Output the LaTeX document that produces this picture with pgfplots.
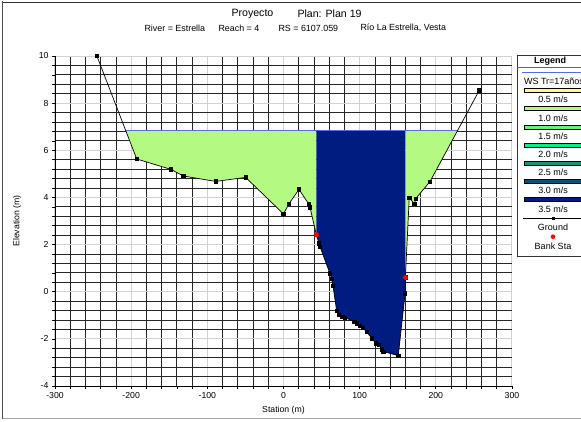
\documentclass[border=0pt]{standalone}
\usepackage{fontspec}
\setmainfont{Liberation Sans}
\usepackage{pgfplots}
\pgfplotsset{compat=1.18}
\definecolor{lg}{RGB}{180,250,130}
\definecolor{navyc}{RGB}{0,28,128}
\definecolor{wsblue}{RGB}{80,110,230}
\definecolor{bar0}{RGB}{255,250,130}
\definecolor{bar2}{RGB}{110,240,120}
\definecolor{bar3}{RGB}{0,240,130}
\definecolor{bar4}{RGB}{20,150,115}
\definecolor{bar5}{RGB}{10,80,125}
\definecolor{gridgray}{RGB}{210,210,210}

\pgfplotstableread{
x y
-245 10.0
-192.7 5.63
-147.7 5.19
-131.6 4.91
-89 4.68
-49.7 4.85
0 3.30
7.2 3.73
20.3 4.34
33.1 3.72
34.8 3.58
43.1 2.42
46.6 2.05
47.9 1.91
61 0.78
63.2 0.54
65 0.25
69.8 -0.82
72.4 -0.99
77.2 -1.06
80.8 -1.10
92.9 -1.27
96.1 -1.34
100.4 -1.46
104 -1.54
109.2 -1.70
115.8 -1.98
121.4 -2.19
125.4 -2.26
128.9 -2.44
131 -2.54
150.7 -2.71
159.6 -0.07
160.0 0.61
165.1 3.99
172.0 3.72
173.6 3.95
192.3 4.67
257 8.54
}\ground

% left overbank flow area (ground from WS edge to left bank, closed along WS)
\pgfplotstableread{
x y
-207.3 6.85
-192.7 5.63
-147.7 5.19
-131.6 4.91
-89 4.68
-49.7 4.85
0 3.30
7.2 3.73
20.3 4.34
33.1 3.72
34.8 3.58
43.1 2.42
43.1 6.85
}\leftob

% main channel flow area
\pgfplotstableread{
x y
43.1 6.85
43.1 2.42
46.6 2.05
47.9 1.91
61 0.78
63.2 0.54
65 0.25
69.8 -0.82
72.4 -0.99
77.2 -1.06
80.8 -1.10
92.9 -1.27
96.1 -1.34
100.4 -1.46
104 -1.54
109.2 -1.70
115.8 -1.98
121.4 -2.19
125.4 -2.26
128.9 -2.44
131 -2.54
150.7 -2.71
159.6 -0.07
160.0 0.61
160.0 6.85
}\chan

% right overbank flow area
\pgfplotstableread{
x y
160.0 6.85
160.0 0.61
165.1 3.99
172.0 3.72
173.6 3.95
192.3 4.67
228.7 6.85
}\rightob

\pgfplotstableread{
x y
-207.3 6.85
228.7 6.85
}\wsurf

\pgfplotstableread{
x y
43.1 2.42
160.0 0.61
}\bank

\begin{document}
\begin{tikzpicture}[x=1pt,y=1pt]
\path[use as bounding box] (0,0) rectangle (581,421);
% outer frame
\draw[black!70, line width=0.8pt] (2.5,420) -- (2.5,2) ;
\draw[black!80, line width=0.8pt] (2.5,418.5) -- (590,418.5);
\draw[black!35, line width=0.8pt] (2.5,2.5) -- (590,2.5);

\begin{axis}[
  at={(55pt,35pt)}, anchor=south west,
  width=457pt, height=330pt, scale only axis,
  xmin=-300, xmax=300, ymin=-4, ymax=10,
  xtick={-300,-200,...,300}, ytick={-4,-2,...,10},
  minor x tick num=4, minor y tick num=4,
  grid=both,
  major grid style={gridgray, line width=1pt},
  minor grid style={black!85, line width=0.75pt},
  axis x line*=bottom, axis y line*=left,
  axis line style={black, line width=0.8pt},
  tick align=outside,
  major tick length=3pt, minor tick length=3pt,
  tick style={black, line width=0.7pt},
  every tick label/.append style={font=\fontsize{8.7}{9}\selectfont},
  /pgf/number format/assume math mode=true,
  xlabel={Station (m)}, ylabel={Elevation (m)},
  label style={font=\fontsize{8.7}{9}\selectfont},
  xlabel style={at={(axis description cs:0.5,-0.073)}, anchor=center},
  ylabel style={at={(axis description cs:-0.083,0.5)}, anchor=center},
]
\addplot[fill=lg, draw=none] table[x=x,y=y] {\leftob} -- cycle;
\addplot[fill=navyc, draw=none] table[x=x,y=y] {\chan} -- cycle;
\addplot[fill=lg, draw=none] table[x=x,y=y] {\rightob} -- cycle;
\addplot[wsblue, line width=1pt] table[x=x,y=y] {\wsurf};
\addplot[black, line width=0.7pt, mark=square*, mark size=1.7pt, mark options={black}] table[x=x,y=y] {\ground};
\addplot[only marks, red, mark=*, mark size=2.4pt] table[x=x,y=y] {\bank};
\end{axis}

% titles
\node[anchor=west, font=\fontsize{10.6}{11}\selectfont] at (228,407) {Proyecto};
\node[anchor=west, font=\fontsize{10.6}{11}\selectfont] at (294,407) {Plan: Plan 19};
\begin{scope}[every node/.style={anchor=west, font=\fontsize{8.9}{9}\selectfont}]
\node at (141,393) {River = Estrella};
\node at (215,393) {Reach = 4};
\node at (275,393) {RS = 6107.059};
\node at (357,393) {Río La Estrella, Vesta};
\end{scope}

% legend
\fill[white] (517,165) rectangle (590,366);
\draw[black!80, line width=0.9pt] (590,366) -- (517,366) -- (517,165) -- (590,165);
\node[font=\bfseries\fontsize{9}{9}\selectfont] at (550,360) {Legend};
\draw[black!60, line width=0.6pt] (517,353.5) -- (590,353.5);
\draw[wsblue, line width=1pt] (522,348) -- (590,348);
\begin{scope}[every node/.style={font=\fontsize{9}{9}\selectfont}]
\node at (554,340) {WS Tr=17años};
\node at (553,321.4) {0.5 m/s};
\node at (553,303.2) {1.0 m/s};
\node at (553,285.0) {1.5 m/s};
\node at (553,266.8) {2.0 m/s};
\node at (553,248.6) {2.5 m/s};
\node at (553,230.4) {3.0 m/s};
\node at (553,212.2) {3.5 m/s};
\node at (553,193.4) {Ground};
\node at (553,175.2) {Bank Sta};
\end{scope}
\foreach \c/\yy in {bar0/330.5, lg/312.3, bar2/294.1, bar3/275.9, bar4/257.7, bar5/239.5, navyc/221.3}{
  \filldraw[fill=\c, draw=black, line width=0.6pt] (524,\yy-2) rectangle (590,\yy+2);
}
\draw[black, line width=0.6pt] (523,202.5) -- (590,202.5);
\fill[black] (551.5,201) rectangle (554.5,204);
\fill[red] (553,184.3) circle (2.3);
\end{tikzpicture}
\end{document}
